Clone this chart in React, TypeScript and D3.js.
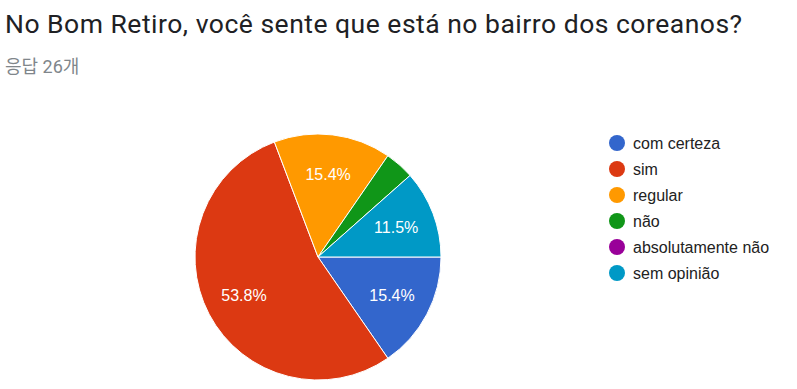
import * as d3 from "d3";
import { useEffect, useRef } from "react";

const W = 797;
const H = 389;

const title = "No Bom Retiro, você sente que está no bairro dos coreanos?";
const subtitle = "응답 26개";

const categories = ["com certeza", "sim", "regular", "não", "absolutamente não", "sem opinião"];
const counts = [4, 14, 4, 1, 0, 3];
const colors = ["#3366cc", "#dc3912", "#ff9900", "#109618", "#990099", "#0099c6"];

const App = () => {
    const svgRef = useRef(null);

    useEffect(() => {
        if (!svgRef.current) return;
        const svg = d3.select(svgRef.current);
        svg.selectAll("*").remove();

        svg.append("rect").attr("width", W).attr("height", H).attr("fill", "#fff");

        svg.append("text")
            .attr("x", 5)
            .attr("y", 33)
            .attr("font-family", "Roboto")
            .attr("font-size", 26.5)
            .attr("letter-spacing", 0.5)
            .attr("fill", "#202124")
            .text(title);

        svg.append("text")
            .attr("x", 5)
            .attr("y", 73)
            .attr("font-family", "Roboto, 'Noto Sans CJK KR'")
            .attr("font-size", 18)
            .attr("fill", "#80868b")
            .text(subtitle);

        const total = d3.sum(counts);
        const cx = 318;
        const cy = 257;
        const radius = 123;

        // google charts starts at 3 o'clock, clockwise
        const pie = d3.pie<number>()
            .sort(null)
            .value(d => d)
            .startAngle(Math.PI / 2)
            .endAngle(Math.PI / 2 + 2 * Math.PI);

        const arcs = pie(counts);
        const arc = d3.arc<d3.PieArcDatum<number>>().innerRadius(0).outerRadius(radius);
        const labelArc = d3.arc<d3.PieArcDatum<number>>().innerRadius(radius * 0.68).outerRadius(radius * 0.68);

        const g = svg.append("g").attr("transform", `translate(${cx}, ${cy})`);

        g.selectAll("path")
            .data(arcs.filter(d => d.value > 0))
            .enter()
            .append("path")
            .attr("d", arc)
            .attr("fill", d => colors[d.index])
            .attr("stroke", "#fff")
            .attr("stroke-width", 1);

        g.selectAll("text")
            .data(arcs.filter(d => d.value / total > 0.05))
            .enter()
            .append("text")
            .attr("transform", d => `translate(${labelArc.centroid(d)})`)
            .attr("text-anchor", "middle")
            .attr("dy", "0.35em")
            .attr("font-family", "Arial, 'Liberation Sans'")
            .attr("font-size", 16)
            .attr("fill", "#fff")
            .text(d => (d.value / total * 100).toFixed(1) + "%");

        const legend = svg.append("g").attr("transform", "translate(617, 143)");
        const rows = legend.selectAll("g")
            .data(categories)
            .enter()
            .append("g")
            .attr("transform", (d, i) => `translate(0, ${i * 26})`);

        rows.append("circle")
            .attr("r", 8)
            .attr("fill", (d, i) => colors[i]);

        rows.append("text")
            .attr("x", 16)
            .attr("dy", "0.35em")
            .attr("font-family", "Arial, 'Liberation Sans'")
            .attr("font-size", 16)
            .attr("fill", "#222")
            .text(d => d);
    }, []);

    return (
        <div style={{ position: "absolute", left: 0, top: 0 }}>
            <svg ref={svgRef} width={W} height={H} />
        </div>
    );
};

export default App;
